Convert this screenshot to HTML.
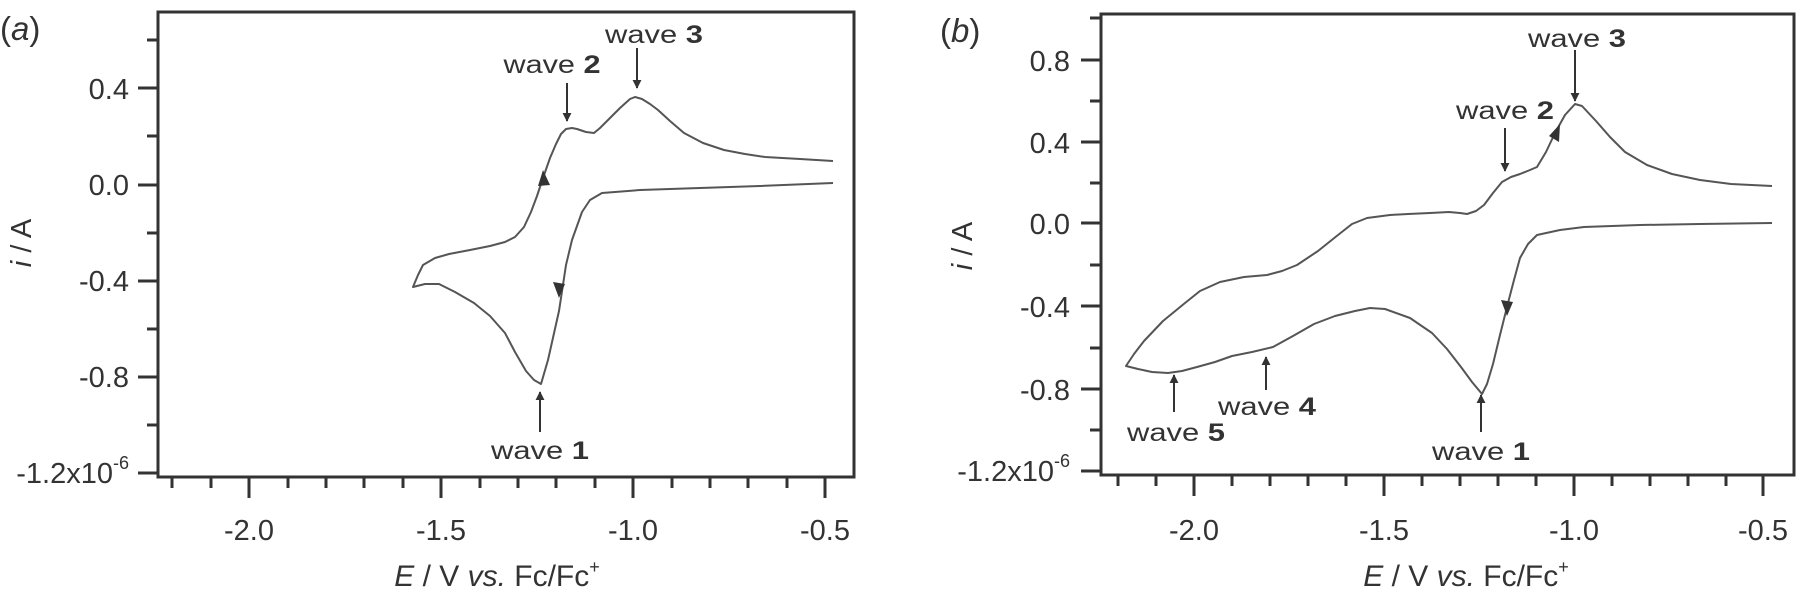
<!DOCTYPE html>
<html><head><meta charset="utf-8"><style>
html,body{margin:0;padding:0;background:#fff}
svg{display:block}
text{font-family:"Liberation Sans",Arial,sans-serif;fill:#333}
</style></head><body>
<svg width="1800" height="594" viewBox="0 0 1800 594" xmlns="http://www.w3.org/2000/svg">
<defs>
<marker id="ah" viewBox="0 0 10 10" refX="9" refY="5" markerWidth="9" markerHeight="11" orient="auto" markerUnits="userSpaceOnUse"><path d="M0,0 L10,5 L0,10 z" fill="#333"/></marker>
</defs>
<!-- Panel a -->
<g stroke="#333" fill="none">
<rect x="158" y="12" width="696" height="465" stroke-width="3"/>
<g stroke-width="3">
<path d="M138,88H158M138,185H158M138,281H158M138,377H158M138,473H158"/>
<path d="M147,40H158M147,136H158M147,233H158M147,329H158M147,425H158"/>
<path d="M249,477v21M441,477v21M633,477v21M825,477v21"/>
<path d="M172,477v11M211,477v11M288,477v11M326,477v11M364,477v11M403,477v11M480,477v11M518,477v11M556,477v11M595,477v11M672,477v11M710,477v11M748,477v11M787,477v11"/>
</g>
<polyline stroke="#555" stroke-width="2" stroke-linejoin="round" points="833,183 760,186 700,188 640,190 602,193 590,200 582,212 572,240 566,265 559,311 548,360 541,384 534,380 526,371 515,352 505,333 490,316 474,303 455,292 439,284 425,284 413,287 418,275 423,265 435,258 449,254 470,250 490,246 505,242 515,237 524,227 531,212 537,196 543,178 550,158 556,144 561,134 566,129 572,128 577,129 586,132 594,133 600,128 607,121 620,108 630,99 635,97 642,99 650,104 658,110 670,121 684,133 703,143 724,150 745,154 765,157 800,159 833,161"/>
<g stroke-width="2">
<line x1="567" y1="83" x2="567" y2="121" marker-end="url(#ah)"/>
<line x1="637" y1="48" x2="637" y2="88" marker-end="url(#ah)"/>
<line x1="540" y1="432" x2="540" y2="392" marker-end="url(#ah)"/>
</g>
</g>
<path d="M559,298 L553,282 L565,284 z" fill="#333"/>
<path d="M543,170 L538,186 L550,185 z" fill="#333"/>
<g font-size="29" text-anchor="end">
<text x="129" y="99">0.4</text><text x="129" y="195">0.0</text><text x="129" y="291">-0.4</text><text x="129" y="387">-0.8</text>
<text x="129" y="483">-1.2x10<tspan font-size="18" dy="-14">-6</tspan></text>
</g>
<g font-size="29" text-anchor="middle">
<text x="249" y="540">-2.0</text><text x="441" y="540">-1.5</text><text x="633" y="540">-1.0</text><text x="825" y="540">-0.5</text>
<text x="497" y="586" font-size="30"><tspan font-style="italic">E</tspan> / V <tspan font-style="italic">vs.</tspan> Fc/Fc<tspan font-size="18" dy="-13">+</tspan></text>
</g>
<text x="0" y="40" font-size="33">(<tspan font-style="italic">a</tspan>)</text>
<text transform="translate(31,243) rotate(-90)" font-size="29" text-anchor="middle"><tspan font-style="italic">i</tspan> / A</text>
<g font-size="25" text-anchor="middle">
<text x="552" y="73" textLength="97" lengthAdjust="spacingAndGlyphs">wave <tspan font-weight="bold">2</tspan></text>
<text x="654" y="43" textLength="98" lengthAdjust="spacingAndGlyphs">wave <tspan font-weight="bold">3</tspan></text>
<text x="540" y="459" textLength="98" lengthAdjust="spacingAndGlyphs">wave <tspan font-weight="bold">1</tspan></text>
</g>

<!-- Panel b -->
<g stroke="#333" fill="none">
<rect x="1101" y="14" width="693" height="461" stroke-width="3"/>
<g stroke-width="3">
<path d="M1081,60H1101M1081,142H1101M1081,223H1101M1081,306H1101M1081,389H1101M1081,471H1101"/>
<path d="M1090,18H1101M1090,101H1101M1090,183H1101M1090,265H1101M1090,348H1101M1090,430H1101"/>
<path d="M1194,475v21M1384,475v21M1574,475v21M1763,475v21"/>
<path d="M1118,475v11M1156,475v11M1232,475v11M1270,475v11M1308,475v11M1346,475v11M1422,475v11M1460,475v11M1498,475v11M1536,475v11M1612,475v11M1650,475v11M1688,475v11M1726,475v11"/>
</g>
<polyline stroke="#555" stroke-width="2" stroke-linejoin="round" points="1772,223 1700,224 1640,225 1584,227 1560,230 1537,235 1528,244 1520,258 1514,280 1508,303 1500,335 1493,364 1487,384 1482,394 1472,382 1461,367 1447,349 1432,333 1410,318 1385,309 1370,308 1355,311 1335,316 1314,324 1293,336 1273,347 1252,352 1232,356 1215,362 1197,367 1182,371 1168,373 1152,372 1138,369 1126,366 1134,354 1144,341 1163,321 1185,303 1200,291 1220,282 1244,277 1267,275 1282,271 1297,265 1318,251 1338,235 1352,224 1367,218 1390,215 1408,214 1430,213 1449,212 1460,213 1467,214 1476,211 1484,205 1493,193 1502,182 1511,177 1520,174 1530,170 1537,167 1546,152 1555,133 1565,115 1575,104 1582,106 1596,121 1610,137 1625,152 1647,165 1672,174 1700,180 1731,184 1772,186"/>
<g stroke-width="2">
<line x1="1505" y1="128" x2="1505" y2="171" marker-end="url(#ah)"/>
<line x1="1575" y1="50" x2="1575" y2="101" marker-end="url(#ah)"/>
<line x1="1481" y1="432" x2="1481" y2="395" marker-end="url(#ah)"/>
<line x1="1266" y1="390" x2="1266" y2="357" marker-end="url(#ah)"/>
<line x1="1174" y1="412" x2="1174" y2="375" marker-end="url(#ah)"/>
</g>
</g>
<path d="M1507,316 L1501,300 L1513,302 z" fill="#333"/>
<path d="M1560,124 L1549,136 L1559,142 z" fill="#333"/>
<g font-size="29" text-anchor="end">
<text x="1070" y="71">0.8</text><text x="1070" y="153">0.4</text><text x="1070" y="234">0.0</text><text x="1070" y="317">-0.4</text><text x="1070" y="400">-0.8</text>
<text x="1070" y="481">-1.2x10<tspan font-size="18" dy="-14">-6</tspan></text>
</g>
<g font-size="29" text-anchor="middle">
<text x="1194" y="540">-2.0</text><text x="1384" y="540">-1.5</text><text x="1574" y="540">-1.0</text><text x="1763" y="540">-0.5</text>
<text x="1466" y="586" font-size="30"><tspan font-style="italic">E</tspan> / V <tspan font-style="italic">vs.</tspan> Fc/Fc<tspan font-size="18" dy="-13">+</tspan></text>
</g>
<text x="940" y="42" font-size="33">(<tspan font-style="italic">b</tspan>)</text>
<text transform="translate(972,246) rotate(-90)" font-size="29" text-anchor="middle"><tspan font-style="italic">i</tspan> / A</text>
<g font-size="25" text-anchor="middle">
<text x="1505" y="119" textLength="98" lengthAdjust="spacingAndGlyphs">wave <tspan font-weight="bold">2</tspan></text>
<text x="1577" y="47" textLength="98" lengthAdjust="spacingAndGlyphs">wave <tspan font-weight="bold">3</tspan></text>
<text x="1481" y="460" textLength="98" lengthAdjust="spacingAndGlyphs">wave <tspan font-weight="bold">1</tspan></text>
<text x="1267" y="415" textLength="98" lengthAdjust="spacingAndGlyphs">wave <tspan font-weight="bold">4</tspan></text>
<text x="1176" y="441" textLength="98" lengthAdjust="spacingAndGlyphs">wave <tspan font-weight="bold">5</tspan></text>
</g>
</svg>
</body></html>
